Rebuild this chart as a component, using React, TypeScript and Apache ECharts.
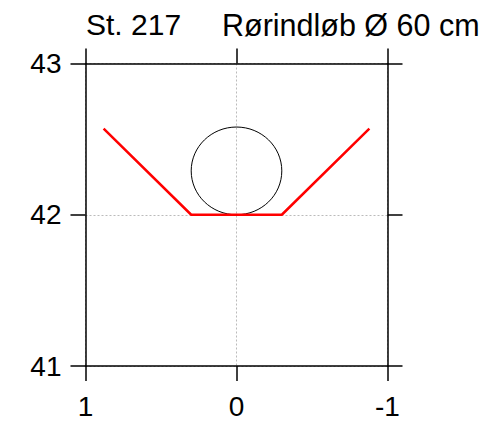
import React, { useEffect, useRef } from "react";
import * as echarts from "echarts";

const title1 = "St. 217";
const title2 = "Rørindløb Ø 60 cm";
const xTicks = [1, 0, -1];
const yTicks = [41, 42, 43];
const profileX = [0.88, 0.3, -0.3, -0.88];
const profileY = [42.57, 42.0, 42.0, 42.57];
const pipeCenterX = 0;
const pipeCenterY = 42.29;
const pipeRadiusX = 0.3;
const pipeRadiusY = 0.29;

export default function App() {
  const ref = useRef<HTMLDivElement>(null);
  useEffect(() => {
    if (!ref.current) return;
    const chart = echarts.init(ref.current, null, { renderer: "svg" });
    const font = "Liberation Sans, Arial, Helvetica, sans-serif";
    const axisLine = { show: true, onZero: false, lineStyle: { color: "#000", width: 1.5 } };
    const axisTick = { show: true, inside: false, length: 15, lineStyle: { color: "#000", width: 1.5 } };
    const split = { show: true, lineStyle: { color: "#bbb", width: 1, type: [2, 2] } };
    chart.setOption({
      animation: false,
      grid: { left: 85.5, right: 99.5, top: 63.5, bottom: 58, containLabel: false },
      graphic: [
        { type: "text", left: 86, top: 9, style: { text: title1, font: `30px ${font}`, fill: "#000" } },
        { type: "text", left: 222, top: 9, style: { text: title2, font: `30.5px ${font}`, fill: "#000" } },
      ],
      xAxis: [
        {
          type: "value", position: "bottom", min: -1, max: 1, interval: 1, inverse: true,
          axisLine, axisTick, splitLine: split,
          axisLabel: { show: true, margin: 26, color: "#000", fontSize: 28, fontFamily: font,
            formatter: (v: number) => (xTicks.includes(v) ? String(v) : "") },
        },
        {
          type: "value", position: "top", min: -1, max: 1, interval: 1, inverse: true,
          axisLine, axisTick, splitLine: { show: false }, axisLabel: { show: false },
        },
      ],
      yAxis: [
        {
          type: "value", position: "left", min: 41, max: 43, interval: 1,
          axisLine, axisTick, splitLine: split,
          axisLabel: { show: true, margin: 24, color: "#000", fontSize: 28, fontFamily: font,
            formatter: (v: number) => (yTicks.includes(v) ? String(v) : "") },
        },
        {
          type: "value", position: "right", min: 41, max: 43, interval: 1,
          axisLine, axisTick, splitLine: { show: false }, axisLabel: { show: false },
        },
      ],
      series: [
        {
          type: "custom",
          xAxisIndex: 0, yAxisIndex: 0,
          data: [[pipeCenterX, pipeCenterY, pipeRadiusX, pipeRadiusY]],
          renderItem: (params: any, api: any) => {
            const c = api.coord([api.value(0), api.value(1)]);
            const s = api.size([api.value(2), api.value(3)]);
            return {
              type: "ellipse",
              shape: { cx: c[0], cy: c[1], rx: s[0], ry: s[1] },
              style: { fill: "none", stroke: "#000", lineWidth: 1 },
            };
          },
          z: 2,
        },
        {
          type: "line",
          xAxisIndex: 0, yAxisIndex: 0,
          data: profileX.map((x, i) => [x, profileY[i]]),
          symbol: "none",
          lineStyle: { color: "#ff0000", width: 2.5 },
          z: 3,
        },
      ],
    });
    return () => chart.dispose();
  }, []);
  return <div ref={ref} style={{ width: 487, height: 424, position: "absolute", left: 0, top: 0 }} />;
}
